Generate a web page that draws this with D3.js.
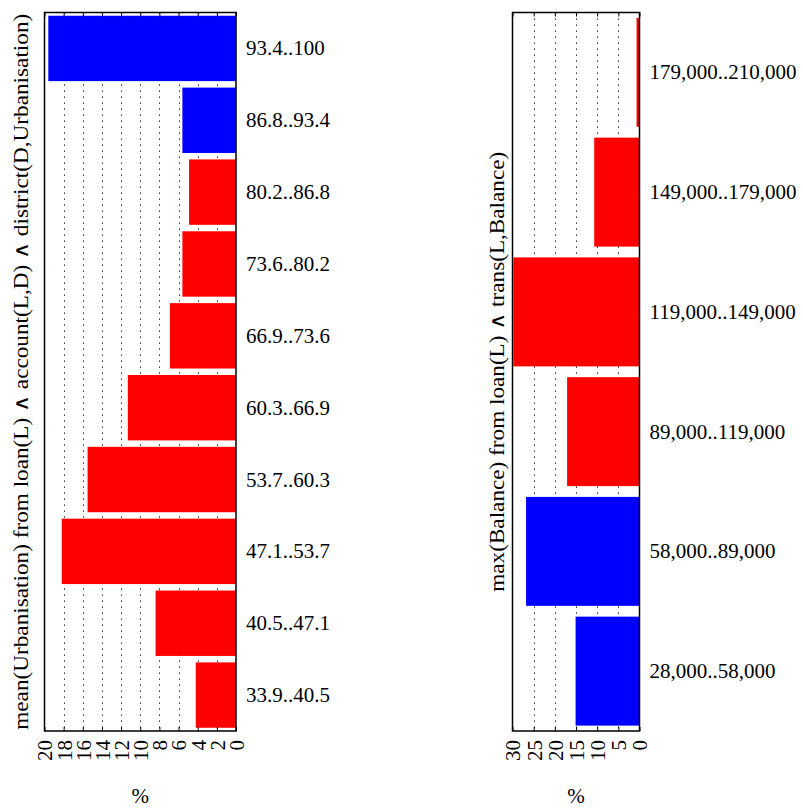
<!DOCTYPE html>
<html>
<head>
<meta charset="utf-8">
<script src="https://cdn.jsdelivr.net/npm/d3@7"></script>
<style>
  body { margin: 0; background: #fff; }
  svg { font-family: "Liberation Serif", "DejaVu Serif", serif; }
</style>
</head>
<body>
<svg id="chart"></svg>
<script>
var width = 803,
    height = 808;

// left panel data: mean(Urbanisation)
var urbanBins = ["93.4..100", "86.8..93.4", "80.2..86.8", "73.6..80.2", "66.9..73.6",
                 "60.3..66.9", "53.7..60.3", "47.1..53.7", "40.5..47.1", "33.9..40.5"];
var urbanPct = [19.6, 5.6, 4.9, 5.6, 6.9, 11.3, 15.5, 18.2, 8.4, 4.2];
var urbanClass = ["pos", "pos", "neg", "neg", "neg", "neg", "neg", "neg", "neg", "neg"];
var urbanTicks = [0, 2, 4, 6, 8, 10, 12, 14, 16, 18, 20];

// right panel data: max(Balance)
var balanceBins = ["179,000..210,000", "149,000..179,000", "119,000..149,000",
                   "89,000..119,000", "58,000..89,000", "28,000..58,000"];
var balancePct = [0.7, 10.7, 29.8, 17.1, 26.8, 15.1];
var balanceClass = ["neg", "neg", "neg", "neg", "pos", "pos"];
var balanceTicks = [0, 5, 10, 15, 20, 25, 30];

var color = d3.scaleOrdinal(["pos", "neg"], ["#0000ff", "#ff0000"]);

var svg = d3.select('#chart')
  .attr('width', width)
  .attr('height', height);

svg.append('rect')
  .attr('fill', '#fff')
  .attr('width', width)
  .attr('height', height);

function drawPanel(opts) {
  var g = svg.append('g');

  var x = d3.scaleLinear()
    .domain([opts.max, 0])
    .range([opts.left, opts.right]);

  var y = d3.scaleBand()
    .domain(opts.bins)
    .range([opts.top, opts.bottom])
    .paddingInner(0.09)
    .paddingOuter(0.045);

  // dotted grid
  g.append('g')
    .selectAll('line')
    .data(opts.ticks.filter(function(t) { return t > 0 && t < opts.max; }))
    .join('line')
    .attr('x1', function(d) { return Math.round(x(d)) + 0.5; })
    .attr('x2', function(d) { return Math.round(x(d)) + 0.5; })
    .attr('y1', opts.top)
    .attr('y2', opts.bottom)
    .attr('stroke', '#111')
    .attr('stroke-width', 1)
    .attr('stroke-dasharray', '1.3,4.7');

  // bars
  g.append('g')
    .selectAll('rect')
    .data(opts.values)
    .join('rect')
    .attr('x', function(d) { return x(d); })
    .attr('width', function(d) { return x(0) - x(d); })
    .attr('y', function(d, i) { return y(opts.bins[i]); })
    .attr('height', y.bandwidth())
    .attr('fill', function(d, i) { return color(opts.cls[i]); });

  // frame
  g.append('rect')
    .attr('x', opts.left)
    .attr('y', opts.top)
    .attr('width', opts.right - opts.left)
    .attr('height', opts.bottom - opts.top)
    .attr('fill', 'none')
    .attr('stroke', '#000')
    .attr('stroke-width', 1.5);

  // bottom axis with rotated tick labels
  var axis = g.append('g')
    .attr('transform', 'translate(0,' + opts.bottom + ')')
    .call(d3.axisBottom(x).tickValues(opts.ticks).tickSizeInner(-4).tickSizeOuter(0));
  axis.select('.domain').remove();
  axis.selectAll('line').attr('stroke', '#000');
  axis.selectAll('text')
    .attr('transform', 'rotate(-90)')
    .attr('x', -9)
    .attr('y', 0)
    .attr('dy', '0.35em')
    .attr('text-anchor', 'end')
    .attr('font-family', '"Liberation Serif", serif')
    .attr('font-size', 21)
    .attr('fill', '#000');

  var topAxis = g.append('g')
    .attr('transform', 'translate(0,' + opts.top + ')')
    .call(d3.axisTop(x).tickValues(opts.ticks).tickSizeInner(-4).tickSizeOuter(0).tickFormat(''));
  topAxis.select('.domain').remove();
  topAxis.selectAll('line').attr('stroke', '#000');

  // category labels on the right
  g.append('g')
    .selectAll('text')
    .data(opts.bins)
    .join('text')
    .attr('x', opts.right + 10)
    .attr('y', function(d) { return y(d) + y.bandwidth() / 2 + 7; })
    .attr('font-size', 21)
    .attr('fill', '#000')
    .text(function(d) { return d; });

  // x title
  g.append('text')
    .attr('x', (opts.left + opts.right) / 2)
    .attr('y', 803)
    .attr('text-anchor', 'middle')
    .attr('font-size', 21)
    .text('%');

  // y title
  g.append('text')
    .attr('transform', 'translate(' + opts.titleX + ',' + ((opts.top + opts.bottom) / 2) + ') rotate(-90)')
    .attr('text-anchor', 'middle')
    .attr('font-size', 20)
    .attr('textLength', opts.titleLen)
    .attr('lengthAdjust', 'spacingAndGlyphs')
    .text(opts.title);
}

drawPanel({
  bins: urbanBins, values: urbanPct, cls: urbanClass, ticks: urbanTicks, max: 20,
  left: 44.5, right: 236, top: 12.5, bottom: 731,
  title: 'mean(Urbanisation) from loan(L) \u2227 account(L,D) \u2227 district(D,Urbanisation)',
  titleX: 28, titleLen: 716
});

drawPanel({
  bins: balanceBins, values: balancePct, cls: balanceClass, ticks: balanceTicks, max: 30,
  left: 512.5, right: 639.5, top: 12.5, bottom: 731,
  title: 'max(Balance) from loan(L) \u2227 trans(L,Balance)',
  titleX: 504, titleLen: 440
});
</script>
</body>
</html>
